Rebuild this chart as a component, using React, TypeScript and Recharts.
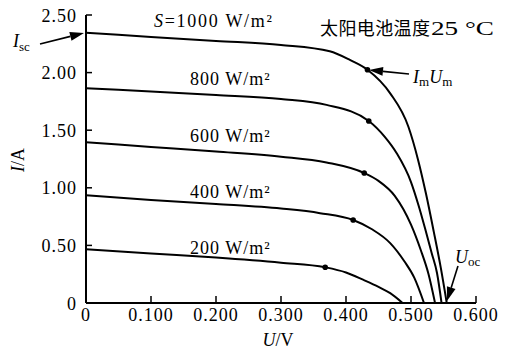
import { ComposedChart, Line, Scatter, XAxis, YAxis } from "recharts";

const uTicks = [0, 0.1, 0.2, 0.3, 0.4, 0.5, 0.6];
const iTicks = [0, 0.5, 1.0, 1.5, 2.0, 2.5];

// I-U curves, one per irradiance level
const u1000 = [0, 0.1, 0.2, 0.3, 0.375, 0.406, 0.433, 0.468, 0.496, 0.511, 0.523, 0.535, 0.546, 0.555];
const i1000 = [2.345, 2.31, 2.275, 2.24, 2.185, 2.11, 2.025, 1.82, 1.53, 1.24, 0.95, 0.62, 0.3, 0];

const u800 = [0, 0.1, 0.2, 0.3, 0.37, 0.435, 0.46, 0.478, 0.5, 0.512, 0.522, 0.532, 0.54, 0.547];
const i800 = [1.865, 1.835, 1.805, 1.77, 1.72, 1.58, 1.44, 1.3, 1.05, 0.84, 0.64, 0.43, 0.26, 0];

const u600 = [0, 0.1, 0.2, 0.3, 0.37, 0.428, 0.45, 0.475, 0.5, 0.515, 0.527, 0.537];
const i600 = [1.395, 1.355, 1.315, 1.27, 1.22, 1.128, 1.06, 0.93, 0.68, 0.46, 0.25, 0];

const u400 = [0, 0.1, 0.2, 0.3, 0.36, 0.411, 0.44, 0.468, 0.49, 0.505, 0.52];
const i400 = [0.935, 0.895, 0.86, 0.82, 0.78, 0.72, 0.64, 0.52, 0.36, 0.22, 0];

const u200 = [0, 0.1, 0.2, 0.3, 0.368, 0.4, 0.427, 0.45, 0.468, 0.487];
const i200 = [0.467, 0.43, 0.395, 0.35, 0.31, 0.265, 0.2, 0.14, 0.085, 0];

// maximum power points
const mppU = [0.433, 0.435, 0.428, 0.411, 0.368];
const mppI = [2.025, 1.58, 1.128, 0.72, 0.31];

const SERIF = '"Liberation Serif", "Times New Roman", serif';
const CJK = '"Noto Sans CJK SC", sans-serif';

const zip = (u: number[], i: number[]) => u.map((v, k) => ({ u: v, i: i[k] }));

const curves = [
  { key: "1000", data: zip(u1000, i1000) },
  { key: "800", data: zip(u800, i800) },
  { key: "600", data: zip(u600, i600) },
  { key: "400", data: zip(u400, i400) },
  { key: "200", data: zip(u200, i200) },
];
const mpp = zip(mppU, mppI);

const fmtI = (v: number) => (v === 0 ? "0" : v.toFixed(2));
const fmtU = (v: number) => (v === 0 ? "0" : v.toFixed(3));

function YTick({ x, y, payload }: any) {
  const ax = x + 9;
  return (
    <g>
      <line x1={ax} x2={ax + 6} y1={y} y2={y} stroke="#000" strokeWidth={1.5} />
      <text x={x} y={y + 6.5} textAnchor="end" fontFamily={SERIF} fontSize={18} letterSpacing={1} fill="#000">
        {fmtI(payload.value)}
      </text>
    </g>
  );
}

function XTick({ x, y, payload }: any) {
  const ay = y - 9;
  return (
    <g>
      <line x1={x} x2={x} y1={ay} y2={ay - 7} stroke="#000" strokeWidth={1.5} />
      <text x={x} y={ay + 17.5} textAnchor="middle" fontFamily={SERIF} fontSize={18} letterSpacing={1} fill="#000">
        {fmtU(payload.value)}
      </text>
    </g>
  );
}

function Arrow({ x1, y1, x2, y2 }: { x1: number; y1: number; x2: number; y2: number }) {
  const len = Math.hypot(x2 - x1, y2 - y1);
  const ux = (x2 - x1) / len;
  const uy = (y2 - y1) / len;
  const hl = 14;
  const hw = 4.5;
  const bx = x2 - ux * hl;
  const by = y2 - uy * hl;
  const pts = `${x2},${y2} ${bx - uy * hw},${by + ux * hw} ${bx + uy * hw},${by - ux * hw}`;
  return (
    <g>
      <line x1={x1} y1={y1} x2={bx} y2={by} stroke="#000" strokeWidth={1.6} />
      <polygon points={pts} fill="#000" />
    </g>
  );
}

function Irr({ x, y, label, s, len }: { x: number; y: number; label: string; s?: boolean; len?: number }) {
  return (
    <text x={x} y={y} fontFamily={SERIF} fontSize={18} letterSpacing={1} fill="#000" textLength={len} lengthAdjust="spacing">
      {s && <tspan fontStyle="italic">S</tspan>}
      {s ? "=" : ""}
      {label} W/m²
    </text>
  );
}

export default function App() {
  return (
    <div style={{ position: "absolute", left: 0, top: 0, width: 508, height: 351, background: "#fff" }}>
      <ComposedChart width={508} height={351} margin={{ top: 15, right: 32, bottom: 18, left: 0 }}>
        <XAxis
          type="number"
          dataKey="u"
          domain={[0, 0.6]}
          ticks={uTicks}
          tickSize={0}
          tickMargin={9}
          height={30}
          axisLine={{ stroke: "#000", strokeWidth: 2 }}
          tickLine={false}
          tick={<XTick />}
          allowDataOverflow
        />
        <YAxis
          type="number"
          dataKey="i"
          domain={[0, 2.5]}
          ticks={iTicks}
          tickSize={0}
          tickMargin={9}
          width={86}
          axisLine={{ stroke: "#000", strokeWidth: 2 }}
          tickLine={false}
          tick={<YTick />}
          allowDataOverflow
        />
        {curves.map((c) => (
          <Line
            key={c.key}
            data={c.data}
            dataKey="i"
            type="monotone"
            stroke="#000"
            strokeWidth={2}
            dot={false}
            activeDot={false}
            isAnimationActive={false}
          />
        ))}
        <Scatter data={mpp} dataKey="i" fill="#000" shape={(p: any) => <circle cx={p.cx} cy={p.cy} r={2.8} fill="#000" />} isAnimationActive={false} />
      </ComposedChart>
      <svg width={508} height={351} style={{ position: "absolute", left: 0, top: 0, pointerEvents: "none" }}>
        <Irr x={154} y={27} label="1000" s len={119} />
        <Irr x={190} y={85} label="800" />
        <Irr x={190} y={141.5} label="600" />
        <Irr x={190} y={198} label="400" />
        <Irr x={190} y={254} label="200" />

        <text x={320} y={35} fontFamily={CJK} fontSize={18} fill="#000" textLength={110} lengthAdjust="spacing">
          太阳电池温度
        </text>
        <text x={431} y={35} fontFamily={SERIF} fontSize={19} fill="#000" textLength={63} lengthAdjust="spacingAndGlyphs">
          25 °C
        </text>

        <text x={13} y={47} fontFamily={SERIF} fontSize={18} fill="#000">
          <tspan fontStyle="italic">I</tspan>
          <tspan fontSize={13} dy={4}>sc</tspan>
        </text>
        <Arrow x1={40} y1={44} x2={84} y2={33} />

        <text x={413} y={83} fontFamily={SERIF} fontSize={18} fill="#000">
          <tspan fontStyle="italic">I</tspan>
          <tspan fontSize={13} dy={3}>m</tspan>
          <tspan fontStyle="italic" dy={-3}>U</tspan>
          <tspan fontSize={13} dy={3}>m</tspan>
        </text>
        <Arrow x1={409} y1={74} x2={369} y2={70} />

        <text x={455} y={263} fontFamily={SERIF} fontSize={18} fill="#000">
          <tspan fontStyle="italic">U</tspan>
          <tspan fontSize={13} dy={3}>oc</tspan>
        </text>
        <Arrow x1={458} y1={266} x2={447} y2={301} />

        <text x={278} y={346} textAnchor="middle" fontFamily={SERIF} fontSize={18} fill="#000">
          <tspan fontStyle="italic">U</tspan>/V
        </text>
        <text
          x={0}
          y={0}
          transform="translate(24 160) rotate(-90)"
          textAnchor="middle"
          fontFamily={SERIF}
          fontSize={18}
          fill="#000"
        >
          <tspan fontStyle="italic">I</tspan>/A
        </text>
      </svg>
    </div>
  );
}
